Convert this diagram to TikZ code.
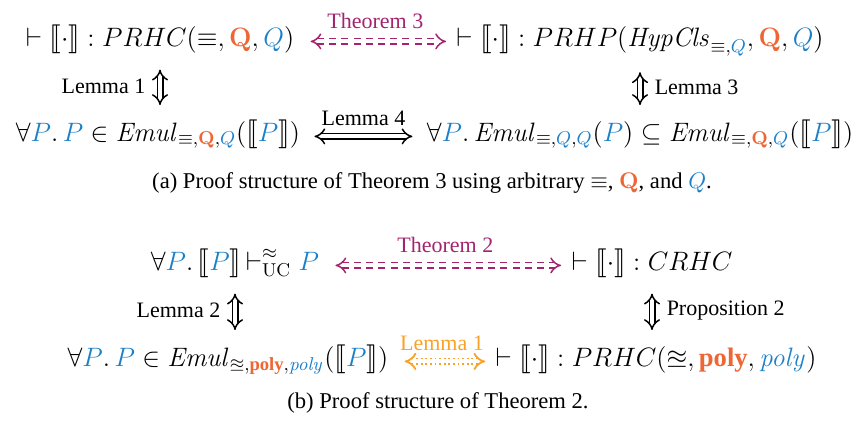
\documentclass[tikz,border=0pt]{standalone}
\usepackage{fix-cm}
\usepackage{amsmath,amssymb}
\usepackage{stmaryrd}
\usepackage[no-math]{fontspec}
\setmainfont{Liberation Serif}
\usetikzlibrary{arrows.meta}

\definecolor{qred}{RGB}{238,102,52}
\definecolor{pblue}{RGB}{28,128,200}
\definecolor{thmpurple}{RGB}{165,35,110}
\definecolor{lemorange}{RGB}{250,162,40}

\newcommand{\Qb}{\textcolor{qred}{\mathbf{Q}}}
\newcommand{\Qi}{\textcolor{pblue}{Q}}
\newcommand{\Pv}{\textcolor{pblue}{P}}
\newcommand{\polyb}{\textcolor{qred}{\text{\bfseries poly}}}
\newcommand{\polyi}{\textcolor{pblue}{\mathit{poly}}}
\newcommand{\sem}[1]{\llbracket #1 \rrbracket}

\begin{document}
\begin{tikzpicture}[
    x=0.5pt, y=-0.5pt,
    stmt/.style={anchor=base, inner sep=2pt, font=\fontsize{13.3}{16}\selectfont},
    lbl/.style={inner sep=2pt, font=\fontsize{11}{13}\selectfont},
    impl/.style={draw, double, double distance=2pt, line width=0.75pt, {Implies}-{Implies}},
    vimpl/.style={impl, shorten <=6pt, shorten >=5pt},
    thmarrow/.style={impl, thmpurple, dash pattern=on 3.5pt off 2.6pt, shorten <=6pt, shorten >=3pt},
    lemarrow/.style={impl, lemorange, line width=0.9pt, dash pattern=on 0.9pt off 1.4pt, shorten <=6pt, shorten >=3pt}
]
    \useasboundingbox (0,0) rectangle (865,424);

    % (a) arbitrary relation
    \node[stmt] (prhc)  at (160,46)  {$\vdash \sem{\cdot} : PRHC(\equiv, \Qb, \Qi)$};
    \node[stmt] (prhp)  at (640,46)  {$\vdash \sem{\cdot} : PRHP(\mathit{HypCls}_{\equiv,\Qi}, \Qb, \Qi)$};
    \node[stmt] (emulA) at (158,141) {$\forall \Pv.\, \Pv \in \mathit{Emul}_{\equiv,\Qb,\Qi}(\sem{\Pv})$};
    \node[stmt] (emulB) at (640,141) {$\forall \Pv.\, \mathit{Emul}_{\equiv,\Qi,\Qi}(\Pv) \subseteq \mathit{Emul}_{\equiv,\Qb,\Qi}(\sem{\Pv})$};
    \node[lbl, anchor=base, font=\fontsize{11.3}{13}\selectfont] (capA) at (432,188) {(a) Proof structure of Theorem 3 using arbitrary $\equiv$, $\Qb$, and $\Qi$.};

    \path
        (prhc.mid east)  edge[thmarrow] node[lbl, above=4pt, thmpurple] {Theorem 3} (prhp.mid west)
        (prhc.south)     edge[vimpl]    node[lbl, left=5pt]  {Lemma 1} (prhc.south |- emulA.north)
        (prhp.south)     edge[vimpl]    node[lbl, right=5pt] {Lemma 3} (prhp.south |- emulB.north)
        (emulA.mid east) edge[impl, shorten <=5pt, shorten >=5pt] node[lbl, above=3pt] {Lemma 4} (emulB.mid west);

    % (b) concrete relation
    \node[stmt] (uc)    at (235,270) {$\forall \Pv.\, \sem{\Pv}\,{\vdash}^{\approx}_{\mathrm{UC}}\; \Pv$};
    \node[stmt] (crhc)  at (652,270) {$\vdash \sem{\cdot} : CRHC$};
    \node[stmt] (emulC) at (228,366) {$\forall \Pv.\, \Pv \in \mathit{Emul}_{\approxeq,\polyb,\polyi}(\sem{\Pv})$};
    \node[stmt] (prhcB) at (656,366) {$\vdash \sem{\cdot} : PRHC(\approxeq, \polyb, \polyi)$};
    \node[lbl, anchor=base, font=\fontsize{11.3}{13}\selectfont] (capB) at (438,408) {(b) Proof structure of Theorem 2.};

    \path
        (uc.mid east)    edge[thmarrow] node[lbl, above=4pt, thmpurple] {Theorem 2} (crhc.mid west)
        (uc.south)       edge[vimpl]    node[lbl, left=5pt]  {Lemma 2} (uc.south |- emulC.north)
        (crhc.south)     edge[vimpl]    node[lbl, right=5pt] {Proposition 2} (crhc.south |- prhcB.north)
        (emulC.mid east) edge[lemarrow] node[lbl, above=3pt, lemorange] {Lemma 1} (prhcB.mid west);
\end{tikzpicture}
\end{document}
